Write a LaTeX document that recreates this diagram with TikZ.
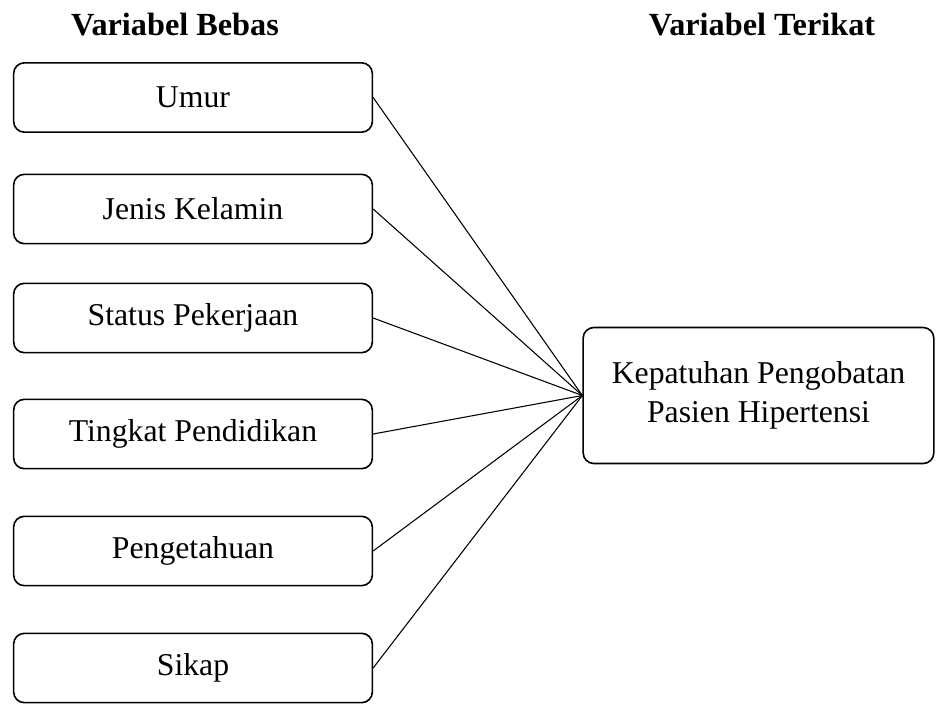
\documentclass[tikz,border=0pt]{standalone}
\usepackage{fontspec}
\setmainfont{Liberation Serif}
\begin{document}
\begin{tikzpicture}[x=0.75pt, y=-0.75pt,
    var/.style={draw, line width=1.2pt, rounded corners=8pt, minimum width=269pt, minimum height=52pt, inner sep=0pt, align=center, font=\fontsize{23.8}{29.5}\selectfont},
    judul/.style={anchor=base, font=\fontsize{24.2}{29}\selectfont\bfseries},
    garis/.style={line width=0.8pt}
]
\useasboundingbox (0,0) rectangle (936,704);
\def\xl{193}

% Judul kolom
\node[judul] (bebas)  at (175,35) {Variabel Bebas};
\node[judul] (terikat) at (762,35) {Variabel Terikat};

% Variabel bebas
\node[var] (umur)  at (\xl,97.5) {Umur};
\node[var] (jk)    at (\xl,209)  {Jenis Kelamin};
\node[var] (kerja) at (\xl,318)  {Status Pekerjaan};
\node[var] (didik) at (\xl,434)  {Tingkat Pendidikan};
\node[var] (tahu)  at (\xl,551)  {Pengetahuan};
\node[var] (sikap) at (\xl,668)  {Sikap};

% Variabel terikat
\node[var, minimum width=263pt, minimum height=102pt] (patuh) at (758.5,395.5) {Kepatuhan Pengobatan\\Pasien Hipertensi};

\draw[garis] (umur.east)  -- (patuh.west);
\draw[garis] (jk.east)    -- (patuh.west);
\draw[garis] (kerja.east) -- (patuh.west);
\draw[garis] (didik.east) -- (patuh.west);
\draw[garis] (tahu.east)  -- (patuh.west);
\draw[garis] (sikap.east) -- (patuh.west);

\end{tikzpicture}
\end{document}
